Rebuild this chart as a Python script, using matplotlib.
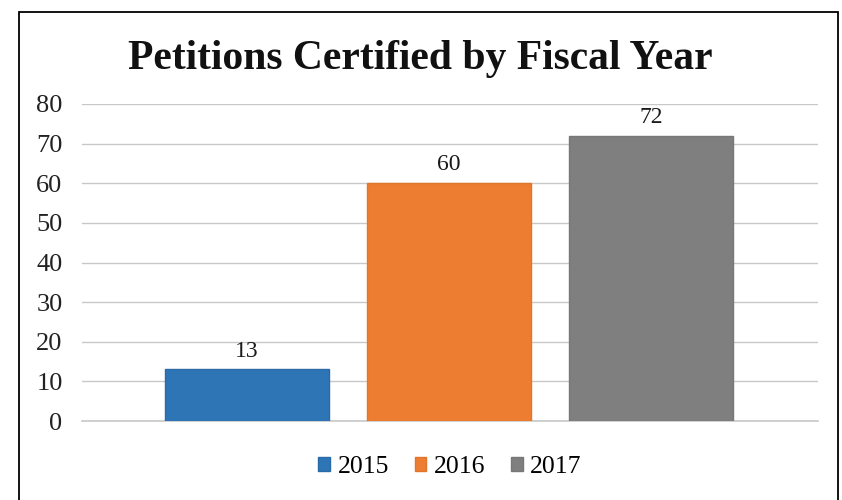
import matplotlib.pyplot as plt
from matplotlib.patches import Rectangle

# Petitions certified per fiscal year
YEARS = ["2015", "2016", "2017"]
PETITIONS = [13, 60, 72]
Y_TICKS = [0, 10, 20, 30, 40, 50, 60, 70, 80]

COLORS = ["#2E75B6", "#ED7D31", "#7F7F7F"]
EDGES = ["#2A6AA6", "#E0752C", "#777777"]

plt.rcParams["font.family"] = ["Liberation Serif", "DejaVu Serif"]

fig = plt.figure(figsize=(8.42, 5.0), dpi=100)
W, H = 842, 500

# outer chart frame
fig.patches.append(Rectangle((19 / W, -0.01), (838 - 19) / W, 1.01 - 12 / H,
                             transform=fig.transFigure, fill=False,
                             edgecolor="black", linewidth=1.3))

ax = fig.add_axes([82 / W, 1 - 421 / H, (818 - 82) / W, (421 - 104) / H])

x = list(range(len(YEARS)))
bars = ax.bar(x, PETITIONS, width=0.81, color=COLORS, edgecolor=EDGES,
              linewidth=1.0, zorder=3)

for xi, v in zip(x, PETITIONS):
    ax.text(xi, v + 2.0, str(v), ha="center", va="bottom", fontsize=17,
            color="#1a1a1a", zorder=4)

ax.set_ylim(0, 80)
ax.set_xlim(-0.817, 2.827)
ax.set_yticks(Y_TICKS)
ax.set_yticklabels([str(t) for t in Y_TICKS], fontsize=19, color="#222222")
ax.set_xticks([])
ax.tick_params(axis="y", length=0, pad=14)
ax.grid(axis="y", color="#c8c8c8", linewidth=1.0, zorder=0)
ax.axhline(0, color="#c8c8c8", linewidth=1.2, zorder=2, clip_on=False)
for side in ["top", "right", "left", "bottom"]:
    ax.spines[side].set_visible(False)

fig.text(420 / W, 1 - 59 / H, "Petitions Certified by Fiscal Year",
         ha="center", va="center", fontsize=30, fontweight="bold",
         color="#111111")

ax.legend(bars, YEARS, loc="center", bbox_to_anchor=(0.5, -0.145),
          ncol=3, frameon=False, fontsize=18.5, handlelength=0.45,
          handleheight=0.45, handletextpad=0.3, columnspacing=1.0)

fig.savefig("out.png", dpi=100)
